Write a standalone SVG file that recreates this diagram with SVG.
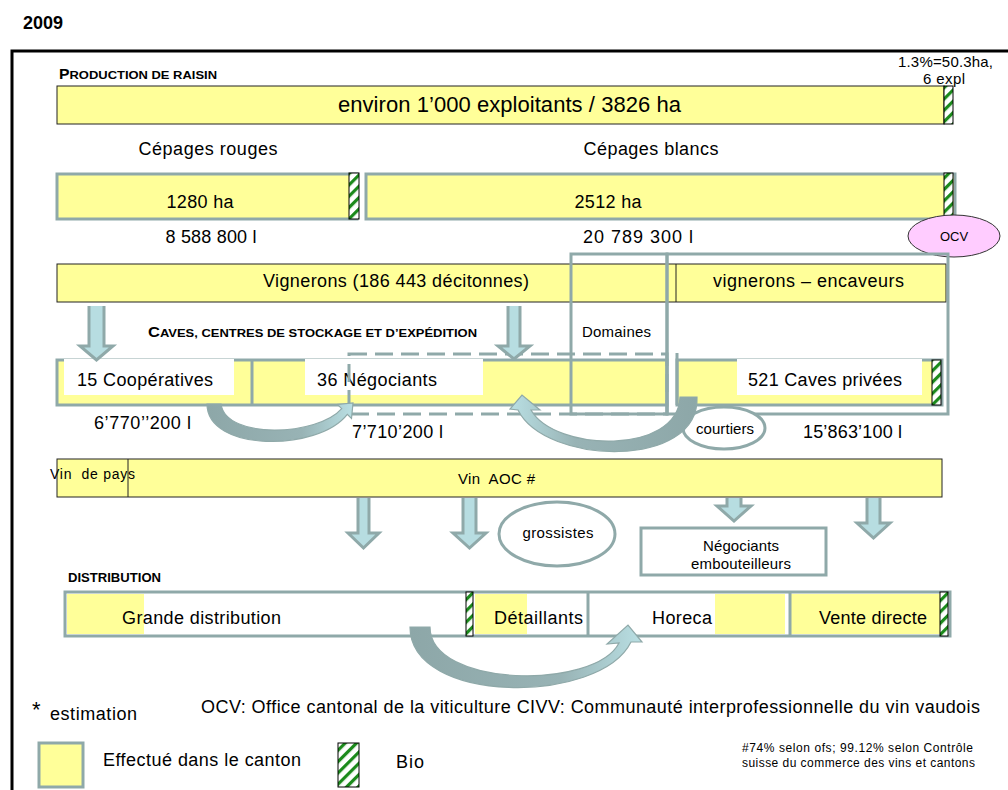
<svg xmlns="http://www.w3.org/2000/svg" width="1008" height="790" viewBox="0 0 1008 790">
<defs>
<pattern id="bioP" patternUnits="userSpaceOnUse" width="8" height="8" patternTransform="rotate(45)">
<rect width="8" height="8" fill="#fff"/>
<rect width="3.2" height="8" fill="#1b8a1b"/>
</pattern>
<linearGradient id="gR" x1="0" y1="0" x2="1" y2="0">
<stop offset="0" stop-color="#8da7a8"/><stop offset="0.65" stop-color="#98b3b5"/><stop offset="1" stop-color="#b9dfe3"/>
</linearGradient>
<linearGradient id="gL" x1="1" y1="0" x2="0" y2="0">
<stop offset="0" stop-color="#8da7a8"/><stop offset="0.65" stop-color="#98b3b5"/><stop offset="1" stop-color="#b9dfe3"/>
</linearGradient>
</defs>
<style>
text{font-family:"Liberation Sans",Arial,sans-serif;fill:#000}
.b{font-weight:bold}
.f18{font-size:18px}
.f15{font-size:15px}
.gb{fill:#ffff99;stroke:#8fa9a9;stroke-width:3}
.bk{fill:#ffff99;stroke:#222;stroke-width:1}
.bio{fill:url(#bioP);stroke:#000;stroke-width:1}
.gl{fill:none;stroke:#8fa9a9;stroke-width:3}
.wb{fill:#fff;stroke:#8fa9a9;stroke-width:3}
.yl{fill:#ffff99}
.wh{fill:#fff}
.ar{fill:#b7dde1;stroke:#8fa9a9;stroke-width:3;stroke-linejoin:miter}
.cv{stroke:#8fa9a9;stroke-width:1.2}
.pre{white-space:pre}
</style>

<text x="23" y="29" class="b" font-size="18">2009</text>
<path d="M12,795 L12,51 L1012,51" fill="none" stroke="#000" stroke-width="3"/>

<g id="production">
<text x="59" y="79" class="b" font-size="11.5" textLength="158" lengthAdjust="spacingAndGlyphs"><tspan font-size="14">P</tspan>RODUCTION DE RAISIN</text>
<rect x="57" y="86" width="887" height="38" class="bk"/>
<rect x="944" y="86" width="9" height="38" class="bio"/>
<text x="509.5" y="112" font-size="22" text-anchor="middle" textLength="343">environ 1’000 exploitants / 3826 ha</text>
<text x="898" y="67" class="f15" textLength="95">1.3%=50.3ha,</text>
<text x="923" y="84" class="f15" textLength="42">6 expl</text>
</g>

<g id="rouges">
<text x="208" y="155" class="f18" text-anchor="middle" textLength="139">Cépages rouges</text>
<rect x="57" y="174" width="300" height="45" class="gb"/>
<rect x="349" y="173" width="10" height="46" class="bio"/>
<text x="200" y="208" class="f18" text-anchor="middle" textLength="67">1280 ha</text>
<text x="211" y="243" class="f18" text-anchor="middle" textLength="91">8 588 800 l</text>
</g>

<g id="blancs">
<text x="651" y="155" class="f18" text-anchor="middle" textLength="135">Cépages blancs</text>
<rect x="366" y="174" width="589" height="45" class="gb"/>
<rect x="944" y="173" width="9" height="46" class="bio"/>
<text x="608" y="208" class="f18" text-anchor="middle" textLength="67">2512 ha</text>
<text x="638" y="243" class="f18" text-anchor="middle" textLength="110">20 789 300 l</text>
</g>

<g id="ocv">
<ellipse cx="954" cy="236" rx="46" ry="21" fill="#ffccff" stroke="#333" stroke-width="1"/>
<text x="954" y="241" font-size="13" text-anchor="middle">OCV</text>
</g>

<g id="vignerons">
<rect x="57" y="264" width="889" height="38" class="bk"/>
<line x1="676" y1="264" x2="676" y2="302" stroke="#222" stroke-width="1"/>
<text x="263" y="287" class="f18" textLength="266">Vignerons (186 443 décitonnes)</text>
<text x="713" y="287" class="f18" textLength="191">vignerons – encaveurs</text>
</g>

<g id="caves-heading">
<text x="148" y="337" class="b" font-size="11" textLength="329" lengthAdjust="spacingAndGlyphs"><tspan font-size="14">C</tspan>AVES, CENTRES DE STOCKAGE ET D’EXPÉDITION</text>
</g>

<g id="cooperatives-negociants">
<rect x="57" y="360" width="610" height="45" class="gb"/>
<line x1="252" y1="360" x2="252" y2="405" class="gl"/>
<rect x="64" y="359" width="170" height="36" class="wh"/>
<rect x="305" y="359" width="178" height="36" class="wh"/>
<text x="77" y="386" class="f18" textLength="136">15 Coopératives</text>
<text x="317" y="386" class="f18" textLength="120">36 Négociants</text>
<text x="94" y="429" class="f18" textLength="97">6’770’’200 l</text>
<text x="352" y="438" class="f18" textLength="91">7’710’200 l</text>
<rect x="349" y="354" width="318" height="60" class="gl" stroke-dasharray="18 8"/>
</g>

<g id="caves-privees">
<rect x="677" y="360" width="265" height="45" class="gb"/>
<line x1="677" y1="353" x2="677" y2="405" class="gl"/>
<rect x="737" y="359" width="185" height="36" class="wh"/>
<rect x="932" y="360" width="9" height="45" class="bio"/>
<text x="748" y="386" class="f18" textLength="154">521 Caves privées</text>
<text x="803" y="438" class="f18" textLength="99">15’863’100 l</text>
</g>

<g id="domaines">
<rect x="571" y="254" width="96" height="160" class="gl"/>
<rect x="667" y="254" width="281" height="160" class="gl"/>
<text x="582" y="337" class="f15" textLength="69">Domaines</text>
</g>

<g id="courtiers">
<ellipse cx="724" cy="428" rx="41" ry="21" class="wb"/>
<text x="725" y="434" class="f15" text-anchor="middle" textLength="58">courtiers</text>
</g>

<g id="vin">
<rect x="57" y="459" width="885" height="38" class="bk"/>
<line x1="128" y1="459" x2="128" y2="497" stroke="#222" stroke-width="1"/>
<text x="50" y="479" font-size="14" class="pre" textLength="85">Vin  de pays</text>
<text x="458" y="484" class="f15 pre" textLength="77">Vin  AOC #</text>
</g>

<g id="grossistes">
<ellipse cx="557" cy="534" rx="58" ry="32" class="wb"/>
<text x="558" y="538" class="f15" text-anchor="middle" textLength="71">grossistes</text>
</g>

<g id="negociants-embouteilleurs">
<rect x="641" y="528" width="185" height="47" class="wb"/>
<text x="741" y="551" class="f15" text-anchor="middle" textLength="76">Négociants</text>
<text x="741" y="569" class="f15" text-anchor="middle" textLength="100">embouteilleurs</text>
</g>

<g id="distribution">
<text x="68" y="582" class="b" font-size="12.5" textLength="93" lengthAdjust="spacingAndGlyphs">DISTRIBUTION</text>
<rect x="65" y="592" width="885" height="44" fill="#fff"/>
<rect x="67" y="594" width="77" height="40" class="yl"/>
<rect x="475" y="594" width="52" height="40" class="yl"/>
<rect x="715" y="594" width="70" height="40" class="yl"/>
<rect x="791" y="594" width="149" height="40" class="yl"/>
<rect x="65" y="592" width="885" height="44" class="gl"/>
<line x1="588" y1="592" x2="588" y2="636" class="gl"/>
<line x1="790" y1="592" x2="790" y2="636" class="gl"/>
<rect x="466" y="592" width="7" height="44" class="bio"/>
<rect x="940" y="592" width="8" height="44" class="bio"/>
<text x="122" y="624" class="f18" textLength="159">Grande distribution</text>
<text x="494" y="624" class="f18" textLength="89">Détaillants</text>
<text x="652" y="624" class="f18" textLength="60">Horeca</text>
<text x="819" y="624" class="f18" textLength="108">Vente directe</text>
</g>

<g id="connectors">
<path class="ar" d="M89,306 L89,346 L80,346 L96.5,360 L113,346 L104,346 L104,306"/>
<path class="ar" d="M508,306 L508,346 L498,346 L514,359 L530,346 L520,346 L520,306"/>
<path class="ar" d="M358,498 L358,533 L348,533 L363.5,548 L379,533 L369,533 L369,498"/>
<path class="ar" d="M463,498 L463,533 L453,533 L469.5,548 L486,533 L476,533 L476,498"/>
<path class="ar" d="M727,498 L727,506 L717,506 L734,521 L751,506 L741,506 L741,498"/>
<path class="ar" d="M867,498 L867,523 L857,523 L873.5,538 L890,523 L880,523 L880,498"/>
<path class="cv" fill="url(#gR)" d="M207,404 C207,452 318,452 347.3,414.3 L351.5,418.5 L353,403 L337.5,404.5 L341.7,408.7 C318,436 226,440 221,404 Z"/>
<path class="cv" fill="url(#gL)" d="M697,397 C700,470 545,465 518,410 L510,409 L522,395 L540,410 L531,410 C555,452 678,455 680,397 Z"/>
<path class="cv" fill="url(#gR)" d="M410,627 C410,705 600,705 631,642 L642,642 L628,625 L607,644 L619,643 C595,690 430,688 430,627 Z"/>
</g>

<g id="legend">
<text x="32" y="717" font-size="22">*</text>
<text x="50" y="720" class="f18" textLength="87">estimation</text>
<text x="201" y="713" class="f18" textLength="779">OCV: Office cantonal de la viticulture CIVV: Communauté interprofessionnelle du vin vaudois</text>
<rect x="39" y="743" width="44" height="44" class="gb"/>
<text x="103" y="766" class="f18" textLength="198">Effectué dans le canton</text>
<rect x="338" y="743" width="21" height="44" class="bio"/>
<text x="396" y="768" class="f18" textLength="28">Bio</text>
<text x="742" y="752" font-size="12" textLength="231">#74% selon ofs; 99.12% selon Contrôle</text>
<text x="742" y="767" font-size="12" textLength="233">suisse du commerce des vins et cantons</text>
</g>
</svg>
